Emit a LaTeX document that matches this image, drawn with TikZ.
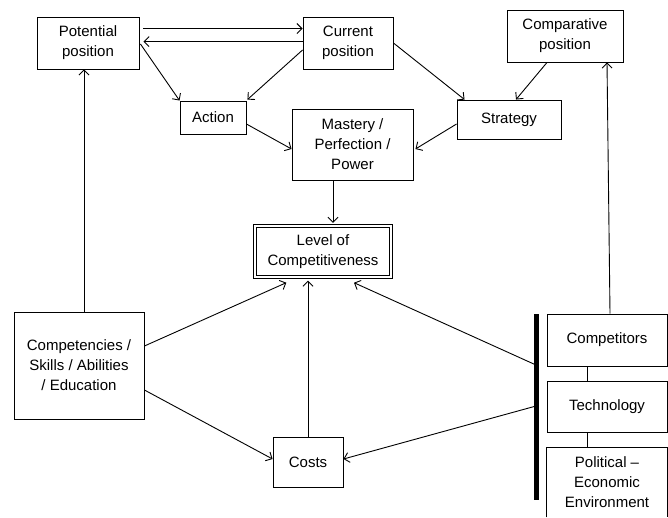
\documentclass[tikz,border=0pt]{standalone}
\usepackage{fontspec}
\setmainfont{Liberation Sans}
\usetikzlibrary{arrows.meta,calc}
\begin{document}
\begin{tikzpicture}[x=1pt,y=-1pt,
  box/.style={draw, line width=0.9pt, align=center, inner sep=0pt, font=\fontsize{15}{20}\selectfont},
  arr/.style={line width=0.9pt, -{Straight Barb[length=5pt,width=10pt]}},
  ln/.style={line width=0.9pt}]
\useasboundingbox (0,0) rectangle (668,517);
\node[box, minimum width=102pt, minimum height=52pt] (pot) at (88,43) {Potential\\position};
\node[box, minimum width=90pt, minimum height=52pt] (cur) at (348,43) {Current\\position};
\node[box, minimum width=116pt, minimum height=52pt] (cmp) at (565,36) {Comparative\\position};
\node[box, minimum width=66pt, minimum height=33pt] (act) at (213,117.5) {Action};
\node[box, minimum width=121pt, minimum height=71pt] (mas) at (352.5,144.5) {Mastery /\\Perfection /\\Power};
\node[box, minimum width=104pt, minimum height=39pt] (str) at (509,119.5) {Strategy};
\node[box, double, line width=1.4pt, double distance=1.6pt, minimum width=136pt, minimum height=51pt] (lev) at (323,251.5) {Level of\\Competitiveness};
\node[box, minimum width=130pt, minimum height=107pt] (csk) at (79,365.5) {Competencies /\\Skills / Abilities\\/ Education};
\node[box, minimum width=70pt, minimum height=50pt] (cst) at (308,462) {Costs};
\node[box, minimum width=120pt, minimum height=52pt] (cpt) at (607,340) {Competitors};
\node[box, minimum width=120pt, minimum height=51pt] (tec) at (607,406.5) {Technology};
\node[box, draw=none, minimum width=120pt, minimum height=69pt] (pol) at (607,482.5) {Political --\\Economic\\Environment};
\draw[ln] (pol.south west) -- (pol.north west) -- (pol.north east) -- (pol.south east);
\coordinate (bt) at (536,314);
\coordinate (bb) at (536,500);
\draw[line width=5pt] (bt) -- (bb);
% arrows
\draw[arr] ($(pot.north east)+(4,12)$) -- ($(cur.north west)+(0,12)$);
\draw[arr] ($(cur.north west)+(0,25)$) -- ($(pot.north east)+(4,25)$);
\draw[arr] ($(pot.east)+(1,1)$) -- (act.north west);
\draw[arr] ($(cur.west)+(0,7)$) -- ($(act.north east)+(1,-1)$);
\draw[arr] (cur.east) -- ($(str.north west)+(8,0)$);
\draw[arr] ($(cmp.south)+(-18,0)$) -- ($(str.north)+(7,0)$);
\draw[arr] ($(act.east)+(0,6.5)$) -- ($(mas.west)+(0,4.5)$);
\draw[arr] ($(str.west)+(0,4.5)$) -- ($(mas.east)+(2,4.5)$);
\draw[arr] ($(mas.south)+(-19.5,0)$) -- ($(lev.north)+(10,-2.5)$);
\draw[arr] ($(csk.east)+(0,-19.5)$) -- ($(lev.south west)+(32,5)$);
\draw[arr] ($(csk.east)+(0,24.5)$) -- ($(cst.west)+(0,-3)$);
\draw[arr] (cst.north) -- ($(lev.south)+(-15,3)$);
\draw[arr] ($(bt)+(0,51)$) -- ($(lev.south)+(31,5)$);
\draw[arr] ($(bt)+(0,92)$) -- ($(cst.east)+(0,-3)$);
\draw[arr] ($(csk.north)+(5,0)$) -- ($(pot.south)+(-4,0)$);
\draw[arr] ($(cpt.north)+(3,0)$) -- ($(cmp.south)+(42,0)$);
\draw[ln] ($(cpt.south)+(-20,0)$) -- ($(tec.north)+(-20,0)$);
\draw[ln] ($(tec.south)+(-20,0)$) -- ($(pol.north)+(-20,0)$);
\end{tikzpicture}
\end{document}
